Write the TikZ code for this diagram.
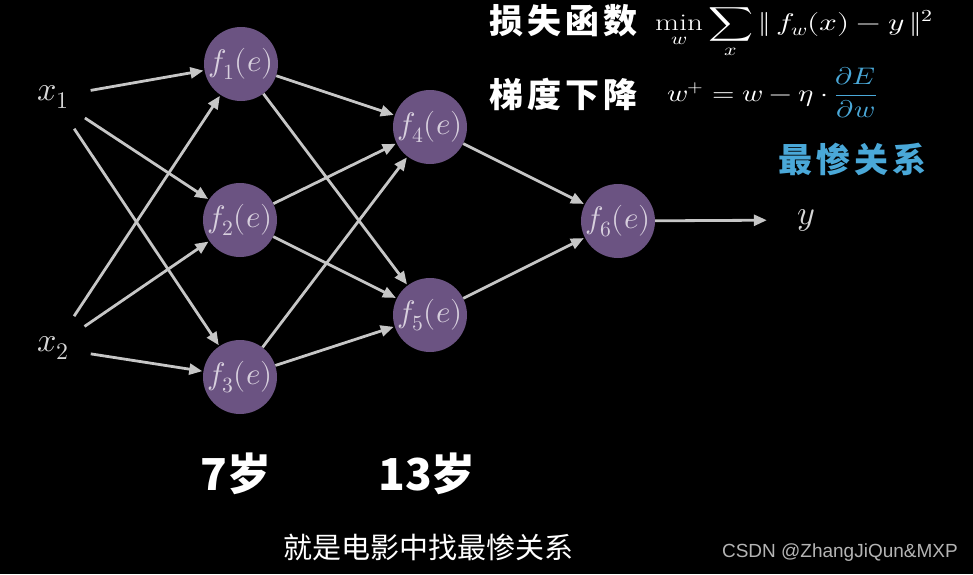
\documentclass[tikz,border=0pt]{standalone}
\usepackage{amsmath}
\usepackage{fontspec}
\usepackage{unicode-math}
\setmathfont{Latin Modern Math}
\newfontfamily\cjk{Noto Sans CJK SC}
\newfontfamily\cjkt{Noto Sans CJK SC}[LetterSpace=12]
\newfontfamily\wm{Liberation Sans}
\usetikzlibrary{arrows.meta}
\definecolor{nodefill}{HTML}{6B5382}
\definecolor{ntext}{HTML}{D8D0DE}
\definecolor{conngray}{HTML}{C6C6C6}
\definecolor{lbl}{HTML}{D6D6D6}
\definecolor{skyblue}{HTML}{4AA8D8}
\definecolor{wmgray}{HTML}{B4B4B4}
\begin{document}
\begin{tikzpicture}[x=1pt,y=-1pt,
  neuron/.style={circle,fill=nodefill,minimum size=74pt,inner sep=0pt,text=ntext,font=\fontsize{31}{33}\selectfont},
  io/.style={circle,minimum size=76pt,inner sep=0pt,text=lbl,font=\fontsize{34}{36}\selectfont},
  conn/.style={draw=conngray,line width=2.8pt,-{Triangle[length=13pt,width=11pt]},shorten >=1pt},
  cjktitle/.style={text=white,font=\cjkt\bfseries\fontsize{34}{38}\selectfont,inner sep=0pt,anchor=base west},
  formula/.style={text=white,font=\fontsize{24}{28}\selectfont,inner sep=0pt,anchor=base west},
  age/.style={text=white,font=\cjk\bfseries\fontsize{44}{48}\selectfont,inner sep=0pt,anchor=base west}]
\fill[black] (0,0) rectangle (973,574);
\useasboundingbox (0,0) rectangle (973,574);

% inputs and neurons
\node[io] (x1) at (53,97) {$x_1$};
\node[io] (x2) at (53,348) {$x_2$};
\node[neuron] (f1) at (241,64) {$f_1(e)$};
\node[neuron] (f2) at (240,220) {$f_2(e)$};
\node[neuron] (f3) at (240,377) {$f_3(e)$};
\node[neuron] (f4) at (430,127) {$f_4(e)$};
\node[neuron] (f5) at (430,315) {$f_5(e)$};
\node[neuron] (f6) at (618,221) {$f_6(e)$};
\node[io] (y) at (806,220) {$y$};

% connections
\foreach \s in {x1,x2}
  \foreach \t in {f1,f2,f3}
    \draw[conn] (\s) -- (\t);
\foreach \s in {f1,f2,f3}
  \foreach \t in {f4,f5}
    \draw[conn] (\s) -- (\t);
\draw[conn] (f4) -- (f6);
\draw[conn] (f5) -- (f6);
\draw[conn] (f6) -- (y);

% top formulas
\node[cjktitle] (t1) at (489,33) {损失函数};
\node[formula] (e1) at (655,30) {\scalebox{1.3}[1]{$\displaystyle \min_{w}\sum_{x}\|\,f_w(x)-y\,\|^2$}};
\node[cjktitle] (t2) at (489,107) {梯度下降};
\node[formula] (e2) at (667,101) {\scalebox{1.2}[1]{$\displaystyle w^{+}=w-\eta\cdot\textcolor{skyblue}{\frac{\partial E}{\partial w}}$}};
\node[cjktitle,text=skyblue] (t3) at (778,172) {最惨关系};

% ages
\node[age] (a7) at (200,490) {7岁};
\node[age] (a13) at (378,490) {13岁};

% subtitle and watermark
\node[text=white,font=\cjk\fontsize{29}{32}\selectfont,inner sep=0pt] (sub) at (428,547) {就是电影中找最惨关系};
\node[text=wmgray,font=\wm\fontsize{19}{22}\selectfont,inner sep=0pt,anchor=east] (wm) at (958,553) {CSDN @ZhangJiQun\&MXP};
\end{tikzpicture}
\end{document}
